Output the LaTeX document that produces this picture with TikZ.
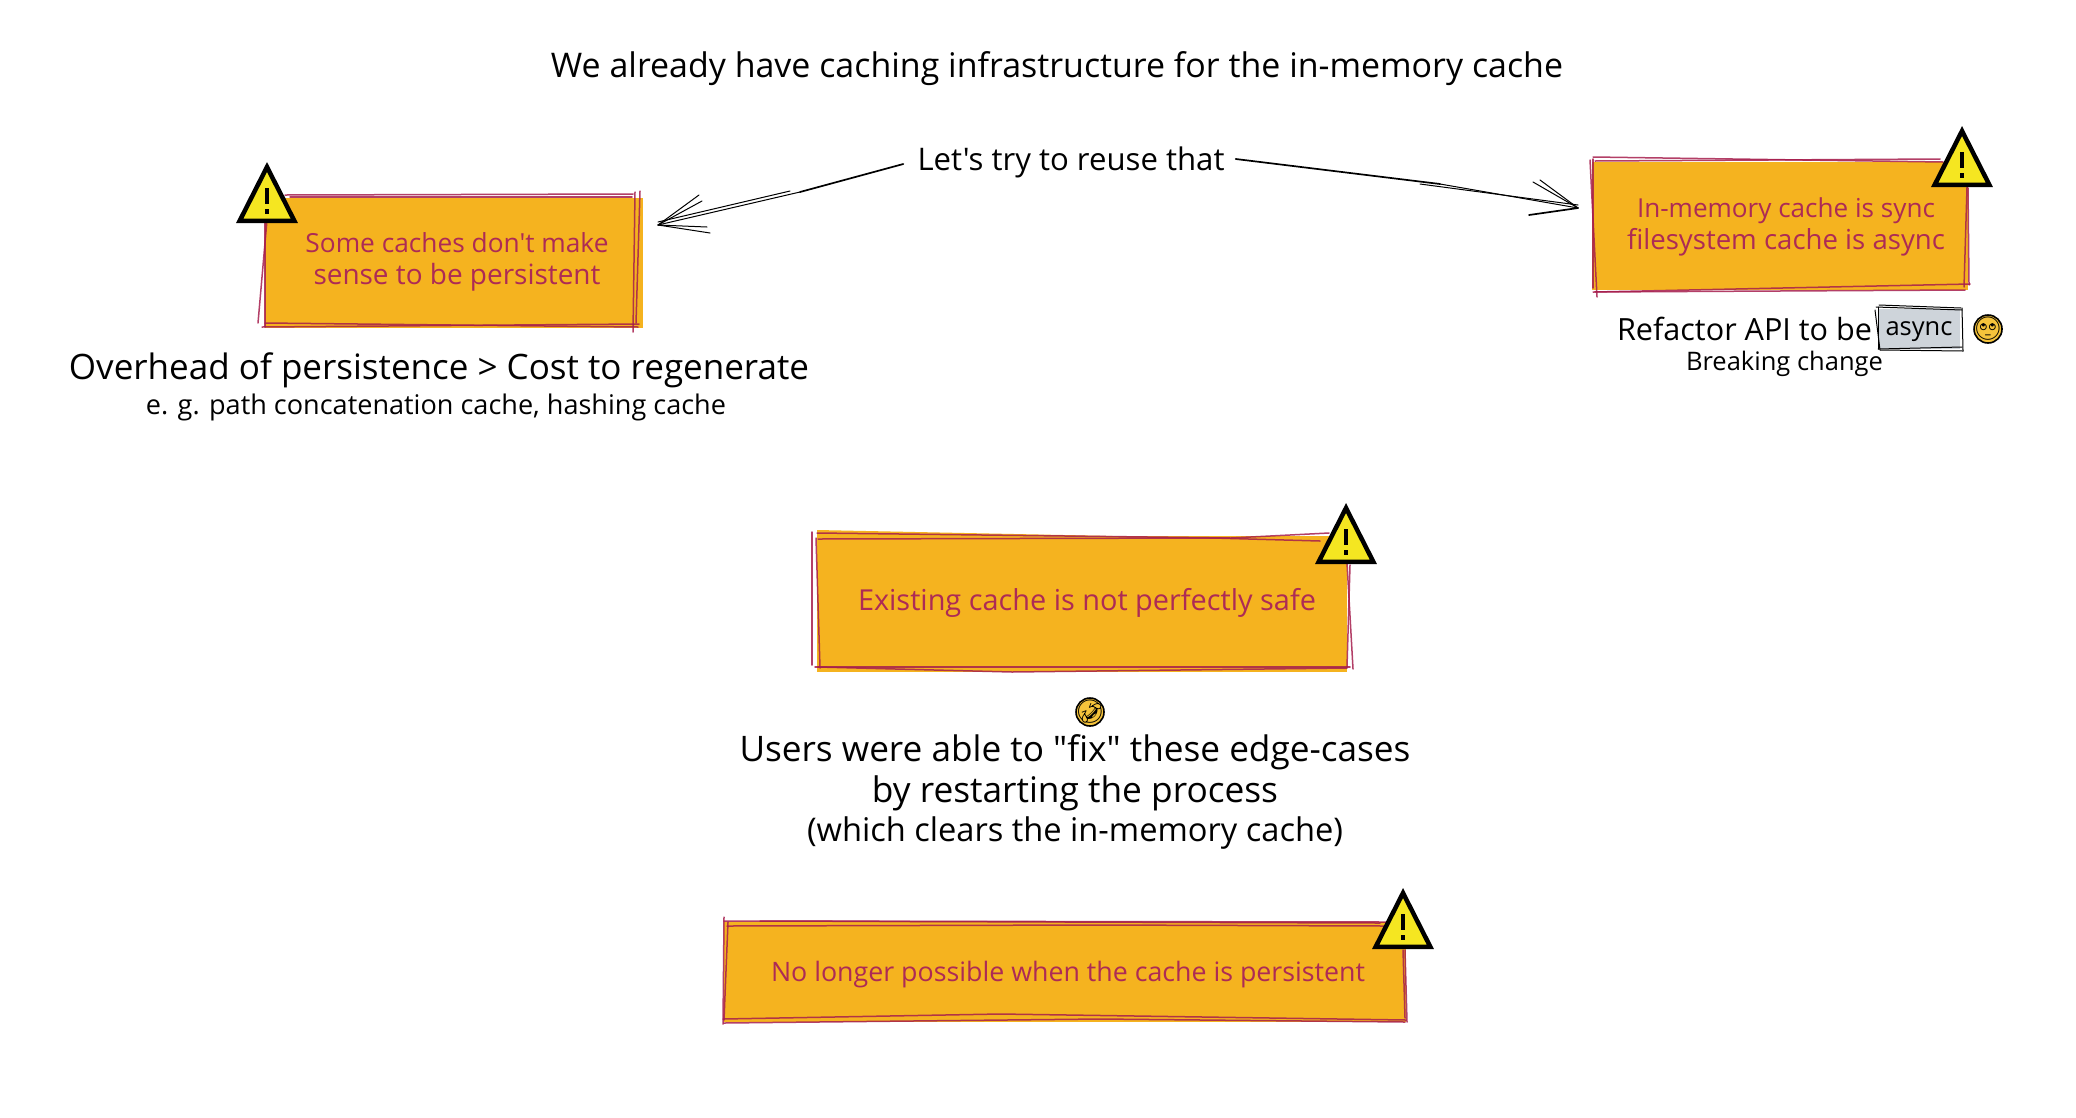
\documentclass[tikz,border=0pt]{standalone}
\usepackage{fontspec}
\usepackage{graphicx}
\newfontfamily\handfont{Open Sans}
\newfontfamily\emojifont{Noto Emoji}
\definecolor{boxfill}{HTML}{F5B31F}
\definecolor{boxline}{HTML}{A61E4D}
\definecolor{boxtext}{HTML}{AD2B55}
\definecolor{warnfill}{HTML}{F5E621}
\definecolor{asyncfill}{HTML}{CED4DA}
\definecolor{emojifill}{HTML}{F5C33B}
\newcommand\fitl[2]{\resizebox{#1pt}{!}{\handfont\fontsize{30pt}{36pt}\selectfont #2}}
\tikzset{
  x=1pt,y=-1pt,
  rough/.style={draw=boxline,line width=1.5pt,line cap=round,opacity=.85},
  inkline/.style={draw=black,line width=1.7pt,line cap=round},
  inkthin/.style={draw=black,line width=1pt,line cap=round},
  card/.style={fill=boxfill,inner sep=0pt,anchor=north west,align=center},
  label/.style={inner sep=0pt,text=black,align=center},
  cardlabel/.style={inner sep=0pt,text=boxtext,align=center},
  warntri/.style={draw=black,fill=warnfill,line width=4.5pt,line join=miter},
  warnmark/.style={draw=black,line width=3.5pt},
  emojidisc/.style={circle,fill=emojifill,draw=black,line width=1.6pt,minimum size=28pt,inner sep=0pt},
  emojiglyph/.style={inner sep=0pt,font=\emojifont\fontsize{23pt}{23pt}\selectfont}
}
\newcommand\warnsign[3]{% apex x, apex y, name
  \path[warntri] (#1,#2+5) coordinate (#3apex) -- (#1+27.3,#2+58.75) coordinate (#3r) -- (#1-27.3,#2+58.75) coordinate (#3l) -- cycle;
  \draw[warnmark] (#1,#2+26) -- (#1,#2+42);
  \draw[warnmark] (#1,#2+47) -- (#1,#2+52);
}
\begin{document}
\begin{tikzpicture}
\useasboundingbox (0,0) rectangle (2076,1117);
\fill[white] (0,0) rectangle (2076,1117);

% Title
\node[label] (title) at (1057,69) {\fitl{1012}{We already have caching infrastructure for the in-memory cache}};
\node[label] (reuse) at (1071,162) {\fitl{307}{Let's try to reuse that}};

% Left card
\node[card,minimum width=378pt,minimum height=130pt] (cardL) at (265,198) {};
\draw[rough] (285,195) -- (633,194);
\draw[rough] (290,197) -- (632,197);
\draw[rough] (635,192) -- (633,332);
\draw[rough] (640,191) -- (636,323);
\draw[rough] (262,327) -- (639,324);
\draw[rough] (265,323) -- (638,327);
\draw[rough] (265,222) -- (265,327);
\draw[rough] (267,220) -- (258,323);
\node[cardlabel] (cardLtext) at (457,262) {\fitl{303}{Some caches don't make}\\[9pt]\fitl{287}{sense to be persistent}};
\warnsign{267}{162}{warnL}
\node[label] (over) at (439,370) {\fitl{740}{Overhead of persistence > Cost to regenerate}};
\node[label] (eg) at (436,407) {\fitl{580}{e. g. path concatenation cache, hashing cache}};

% Right card
\node[card,minimum width=376pt,minimum height=128pt] (cardR) at (1592,162) {};
\draw[rough] (1593,157) -- (1943,162);
\draw[rough] (1595,161) -- (1940,159);
\draw[rough] (1590,160) -- (1597,297);
\draw[rough] (1593,159) -- (1593,288);
\draw[rough] (1593,292) -- (1965,290);
\draw[rough] (1595,292) -- (1970,284);
\draw[rough] (1967,187) -- (1964,287);
\draw[rough] (1968,188) -- (1969,285);
\node[cardlabel] (cardRtext) at (1786,227) {\fitl{298}{In-memory cache is sync}\\[4pt]\fitl{318}{filesystem cache is async}};
\warnsign{1962}{126}{warnR}

% Text below right card
\node[label] (refactor) at (1744.5,329) {\fitl{255}{Refactor API to be}};
\node[fill=asyncfill,inner sep=0pt,minimum width=82pt,minimum height=40pt] (asyncbox) at (1919,329) {};
\node[label] (asynctext) at (1919,332) {\fitl{67}{async}};
\draw[inkthin] (1876,307) -- (1962,310);
\draw[inkthin] (1879,305) -- (1961,308);
\draw[inkthin] (1878,307) -- (1878,349);
\draw[inkthin] (1875,310) -- (1880,350);
\draw[inkthin] (1878,349) -- (1962,347);
\draw[inkthin] (1880,350) -- (1963,351);
\draw[inkthin] (1962,308) -- (1963,351);
\node[emojidisc] (eyes) at (1988,329) {};
\node[emojiglyph] (eyesglyph) at (1988,329) {🙄};
\node[label] (breaking) at (1784.5,364) {\fitl{197}{Breaking change}};

% Middle card
\fill[boxfill] (817,530) -- (1310,540) -- (817,540) -- cycle;
\node[card,minimum width=530pt,minimum height=136pt] (cardM) at (817,536) {};
\draw[rough] (817,533) -- (1231,538) -- (1329,533);
\draw[rough] (818,539) -- (1213,538) -- (1320,541);
\draw[rough] (812,532) -- (812,665);
\draw[rough] (816,538) -- (820,668);
\draw[rough] (815,667) -- (1350,667);
\draw[rough] (818,667) -- (1012,672) -- (1347,668);
\draw[rough] (1347,563) -- (1353,669);
\draw[rough] (1350,565) -- (1347,667);
\node[cardlabel] (cardMtext) at (1087,603) {\fitl{458}{Existing cache is not perfectly safe}};
\warnsign{1346}{503}{warnM}

\node[emojidisc] (rofl) at (1090,712) {};
\node[emojiglyph] (roflglyph) at (1090,712) {🤣};
\node[label] (users) at (1075,792) {\fitl{671}{Users were able to "fix" these edge-cases}\\[5pt]\fitl{406}{by restarting the process}\\[5pt]\fitl{536}{(which clears the in-memory cache)}};

% Bottom card
\node[card,minimum width=682pt,minimum height=100pt] (cardB) at (724,922) {};
\draw[rough] (724,921) -- (1390,922);
\draw[rough] (760,921) -- (1380,923);
\draw[rough] (727,926) -- (1100,925) -- (1385,926);
\draw[rough] (724,917) -- (723,1024);
\draw[rough] (728,922) -- (724,1020);
\draw[rough] (723,1019) -- (1000,1014) -- (1406,1020);
\draw[rough] (724,1023) -- (1100,1019) -- (1405,1022);
\draw[rough] (1405,950) -- (1407,1022);
\draw[rough] (1403,950) -- (1405,1018);
\node[cardlabel] (cardBtext) at (1068,975) {\fitl{594}{No longer possible when the cache is persistent}};
\warnsign{1403}{888}{warnB}

% Arrows
\coordinate (tipL) at (658,225);
\coordinate (tipR) at (1578,208);
\coordinate (midL) at (800,192);
\coordinate (midLb) at (790,191);
\coordinate (midR) at (1440,184);
\coordinate (midRb) at (1420,184);
\coordinate (barbLa) at (699,195);
\coordinate (barbLb) at (702,201);
\coordinate (barbLc) at (707,227);
\coordinate (barbLd) at (710,233);
\coordinate (barbRa) at (1533,182);
\coordinate (barbRb) at (1540,180);
\coordinate (barbRc) at (1529,215);
\draw[inkline] ([xshift=-14pt,yshift=-2pt]reuse.west) -- (midL);
\draw[inkthin] (midL) -- (tipL);
\draw[inkthin] (midLb) -- ([yshift=3pt]tipL);
\draw[inkthin] (tipL) -- (barbLa);
\draw[inkthin] (tipL) -- (barbLb);
\draw[inkthin] (tipL) -- (barbLc);
\draw[inkthin] (tipL) -- (barbLd);
\draw[inkline] ([xshift=11pt,yshift=3pt]reuse.east) -- (midR);
\draw[inkthin] (midR) -- (tipR);
\draw[inkthin] (midRb) -- ([yshift=3pt]tipR);
\draw[inkthin] (tipR) -- (barbRa);
\draw[inkthin] (tipR) -- (barbRb);
\draw[inkline] (tipR) -- (barbRc);
\end{tikzpicture}
\end{document}
